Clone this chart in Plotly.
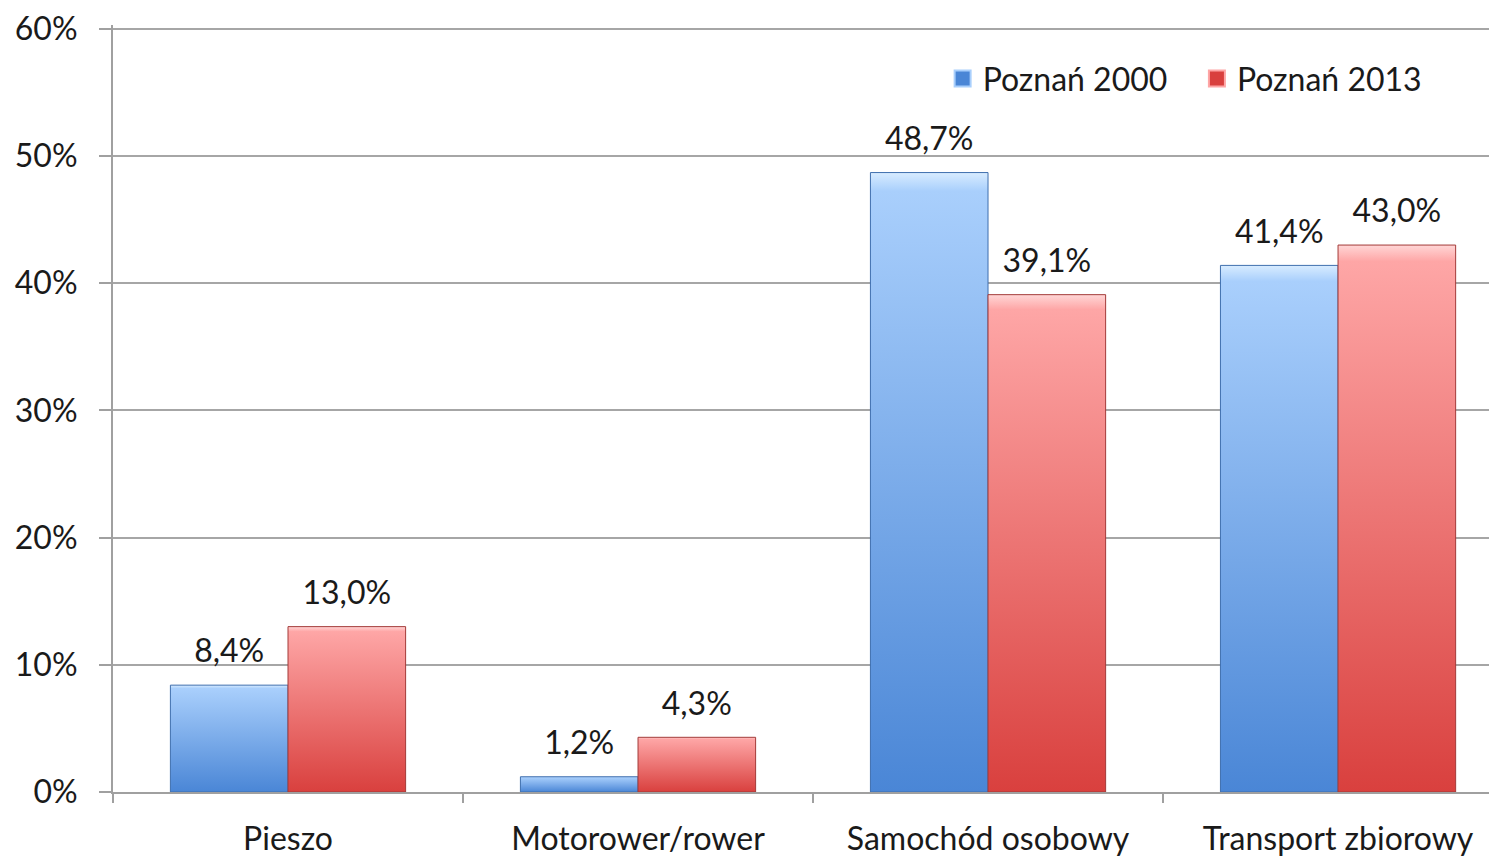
import plotly.graph_objects as go

categories = ["Pieszo", "Motorower/rower", "Samochód osobowy", "Transport zbiorowy"]
series_names = ["Poznań 2000", "Poznań 2013"]
values_2000 = [8.4, 1.2, 48.7, 41.4]
values_2013 = [13.0, 4.3, 39.1, 43.0]
y_ticks = [0, 10, 20, 30, 40, 50, 60]
y_tick_labels = ["0%", "10%", "20%", "30%", "40%", "50%", "60%"]

FONT = "Lato, 'Open Sans', sans-serif"
FS = 32
BAR_W = 0.336
X_RANGE = [-0.5, 3.477]
Y_RANGE = [0, 60.3]
styles = [
    dict(dark="#4a86d6", light="#a9cffc", top="#d8ecff", line="#3f6fae", offset=-BAR_W),
    dict(dark="#d9403e", light="#fea6a6", top="#ffd6d6", line="#a33a38", offset=0.0),
]

def fmt(v):
    return f"{v:.1f}".replace(".", ",") + "%"

fig = go.Figure()
for s_idx, (name, vals) in enumerate(zip(series_names, [values_2000, values_2013])):
    st = styles[s_idx]
    for i, v in enumerate(vals):
        x0 = i + st["offset"]
        x1 = x0 + BAR_W
        fig.add_trace(go.Scatter(
            x=[x0, x1, x1, x0, x0], y=[0, 0, v, v, 0],
            mode="lines", fill="toself",
            fillgradient=dict(type="vertical",
                              colorscale=[[0, st["dark"]], [0.97, st["light"]], [1, st["top"]]]),
            line=dict(color=st["line"], width=1),
            showlegend=False, hoverinfo="skip"))
    fig.add_trace(go.Scatter(
        x=[i + st["offset"] + BAR_W / 2 for i in range(len(vals))], y=vals,
        mode="markers+text", text=[fmt(v) for v in vals], textposition="top center",
        marker=dict(size=22, opacity=0),
        textfont=dict(family=FONT, size=FS, color="#1a1a1a"),
        showlegend=False, hoverinfo="skip"))
    fig.add_trace(go.Scatter(
        x=[None], y=[None], mode="markers", name=name + "\u00a0\u00a0\u00a0",
        marker=dict(symbol="square", size=20, color=st["dark"],
                    line=dict(color=st["light"], width=2))))

fig.update_layout(
    width=1497, height=858,
    margin=dict(l=105, r=0, t=17, b=74),
    paper_bgcolor="white", plot_bgcolor="white",
    font=dict(family=FONT, size=FS, color="#1a1a1a"),
    legend=dict(orientation="h", x=0.596, xanchor="left", y=0.966, yanchor="top",
                font=dict(family=FONT, size=FS, color="#1a1a1a"),
                bgcolor="rgba(0,0,0,0)", itemwidth=30, tracegroupgap=0),
    xaxis=dict(range=X_RANGE, tickvals=list(range(len(categories))), ticktext=categories,
               showgrid=False, zeroline=False, showline=False, ticks="", automargin=False,
               ticklabelstandoff=25, tickfont=dict(family=FONT, size=FS, color="#1a1a1a")),
    xaxis2=dict(range=X_RANGE, overlaying="x", side="bottom", anchor="y", automargin=False,
                tickvals=[-0.5, 0.5, 1.5, 2.5, 3.5], ticktext=["", "", "", "", ""],
                ticks="outside", ticklen=9, tickwidth=2, tickcolor="#a0a0a0",
                showgrid=False, zeroline=False, showline=True, linecolor="#a0a0a0", linewidth=2),
    yaxis=dict(range=Y_RANGE, tickvals=y_ticks, ticktext=y_tick_labels,
               showgrid=True, gridcolor="#a6a6a6", gridwidth=2, zeroline=False,
               showline=True, linecolor="#a0a0a0", linewidth=2, automargin=False,
               ticks="outside", ticklen=12, tickwidth=2, tickcolor="#a0a0a0",
               ticklabeloverflow="allow",
               ticklabelstandoff=15, tickfont=dict(family=FONT, size=FS, color="#1a1a1a")),
)
fig.add_trace(go.Scatter(x=[None], y=[None], xaxis="x2", showlegend=False, hoverinfo="skip"))

fig.write_html("out.html")
